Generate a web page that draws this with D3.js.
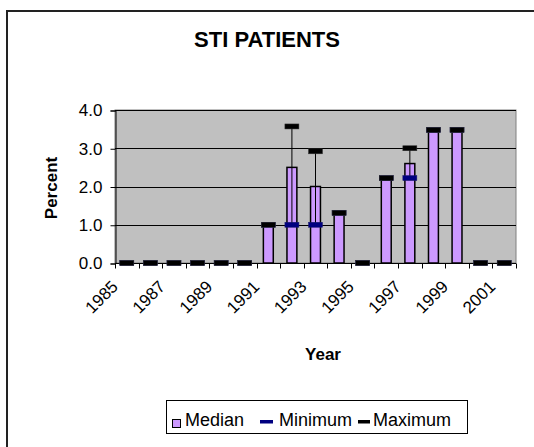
<!DOCTYPE html>
<html><head><meta charset="utf-8">
<script src="https://cdn.jsdelivr.net/npm/d3@7"></script>
<style>html,body{margin:0;padding:0;background:#fff}svg{display:block;font-family:"Liberation Sans",Arial,sans-serif}</style>
</head><body><svg id="c" width="534" height="447"></svg>
<script>
const years = [1985,1986,1987,1988,1989,1990,1991,1992,1993,1994,1995,1996,1997,1998,1999,2000,2001];
const median  = [0,0,0,0,0,0,1.0,2.5,2.0,1.27,0,2.17,2.6,3.43,3.43,0,0];
const minimum = [0,0,0,0,0,0,1.0,1.0,1.0,1.31,0,2.22,2.22,3.48,3.48,0,0];
const maximum = [0,0,0,0,0,0,1.0,3.57,2.92,1.31,0,2.22,3.0,3.48,3.48,0,0];
const yTicks = [0,1,2,3,4];
const xLabelYears = [1985,1987,1989,1991,1993,1995,1997,1999,2001];
const seriesNames = ["Median","Minimum","Maximum"];

const svg = d3.select("#c");
const L = 115, R = 516, T = 110, B = 263;
const x = d3.scaleBand().domain(years).range([L, R]).paddingInner(0).paddingOuter(0);
const y = d3.scaleLinear().domain([0, 4]).range([B, T]);

// frame lines (left & top only visible)
svg.append("line").attr("x1",7).attr("x2",7).attr("y1",10).attr("y2",447).attr("stroke","#222").attr("stroke-width",2);
svg.append("line").attr("x1",6).attr("x2",534).attr("y1",11).attr("y2",11).attr("stroke","#222").attr("stroke-width",2);

// title
svg.append("text").attr("x",267).attr("y",47).attr("text-anchor","middle")
  .attr("font-weight","bold").attr("font-size",22).text("STI PATIENTS");

// plot background
svg.append("rect").attr("x",L).attr("y",T).attr("width",R-L).attr("height",B-T)
  .attr("fill","#c0c0c0").attr("stroke","#808080").attr("stroke-width",1);

// gridlines
svg.append("g").selectAll("line").data(yTicks.filter(d=>d>0)).join("line")
  .attr("x1",L).attr("x2",R).attr("y1",d=>Math.round(y(d))+0.5).attr("y2",d=>Math.round(y(d))+0.5)
  .attr("stroke","#000").attr("stroke-width",1);

// y axis
const yAxis = d3.axisLeft(y).tickValues(yTicks).tickFormat(d3.format(".1f")).tickSize(5).tickPadding(8);
const gy = svg.append("g").attr("transform",`translate(${L+0.5},0.5)`).call(yAxis);
gy.selectAll("text").attr("font-size",17).attr("fill","#000").attr("font-family","Liberation Sans, Arial");
gy.selectAll("line,path").attr("stroke","#000");

// x axis with ticks at band edges
const gx = svg.append("g").attr("transform",`translate(0,${B+0.5})`);
gx.append("line").attr("x1",L).attr("x2",R).attr("stroke","#000");
const edges = years.map(d=>x(d)).concat([R]);
gx.selectAll("line.t").data(edges).join("line").attr("class","t")
  .attr("x1",d=>Math.round(d)+0.5).attr("x2",d=>Math.round(d)+0.5).attr("y1",0).attr("y2",5).attr("stroke","#000");
gx.selectAll("text").data(xLabelYears).join("text")
  .attr("transform",d=>`translate(${x(d)+x.bandwidth()/2-12},${20}) rotate(-45)`)
  .attr("text-anchor","end").attr("dy","0.35em").attr("font-size",17).text(d=>d);

// axis titles
svg.append("text").attr("transform","translate(57,188) rotate(-90)").attr("text-anchor","middle")
  .attr("font-weight","bold").attr("font-size",17).text("Percent");
svg.append("text").attr("x",323).attr("y",360).attr("text-anchor","middle")
  .attr("font-weight","bold").attr("font-size",17).text("Year");

// bars
const bw = x.bandwidth()*0.42;
const idx = d3.range(years.length);
svg.append("g").selectAll("rect").data(idx.filter(i=>median[i]>0)).join("rect")
  .attr("x",i=>x(years[i])+x.bandwidth()/2-bw/2).attr("width",bw)
  .attr("y",i=>y(median[i])).attr("height",i=>y(0)-y(median[i]))
  .attr("fill","#cc99ff").attr("stroke","#000").attr("stroke-width",1.5);

// high-low lines
svg.append("g").selectAll("line").data(idx.filter(i=>maximum[i]>minimum[i])).join("line")
  .attr("x1",i=>x(years[i])+x.bandwidth()/2).attr("x2",i=>x(years[i])+x.bandwidth()/2)
  .attr("y1",i=>y(minimum[i])).attr("y2",i=>y(maximum[i])).attr("stroke","#000").attr("stroke-width",1);

// markers
const mw = 14, mh = 5;
svg.append("g").selectAll("rect").data(idx).join("rect")
  .attr("x",i=>x(years[i])+x.bandwidth()/2-mw/2).attr("width",mw)
  .attr("y",i=>y(minimum[i])-mh/2).attr("height",mh)
  .attr("fill","#000080").attr("stroke","#1a1a6a").attr("stroke-width",0.5);
svg.append("g").selectAll("rect").data(idx).join("rect")
  .attr("x",i=>x(years[i])+x.bandwidth()/2-mw/2).attr("width",mw)
  .attr("y",i=>y(maximum[i])-mh/2).attr("height",mh)
  .attr("fill","#000").attr("stroke","#333").attr("stroke-width",0.5);

// legend
const lg = svg.append("g");
lg.append("rect").attr("x",166.5).attr("y",400.5).attr("width",301).attr("height",33)
  .attr("fill","#fff").attr("stroke","#000");
lg.append("rect").attr("x",172.5).attr("y",419.5).attr("width",8).attr("height",8)
  .attr("fill","#cc99ff").attr("stroke","#000");
lg.append("text").attr("x",185).attr("y",426).attr("font-size",18).text(seriesNames[0]);
lg.append("rect").attr("x",260).attr("y",420).attr("width",13).attr("height",3.5).attr("fill","#000080");
lg.append("text").attr("x",279).attr("y",426).attr("font-size",18).text(seriesNames[1]);
lg.append("rect").attr("x",358).attr("y",420).attr("width",12).attr("height",3.5).attr("fill","#000");
lg.append("text").attr("x",373).attr("y",426).attr("font-size",18).text(seriesNames[2]);
</script></body></html>
